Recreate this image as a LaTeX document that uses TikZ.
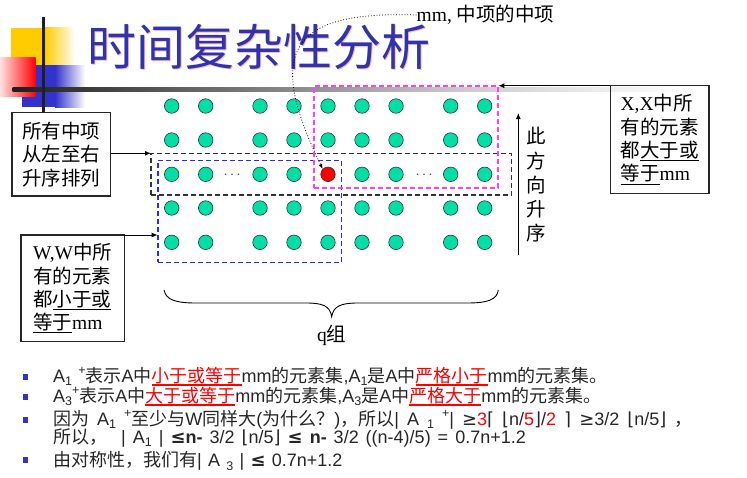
\documentclass[tikz,border=0pt]{standalone}
\usepackage{fontspec}
\setmainfont{Liberation Serif}
\newfontfamily\cjk{Noto Sans CJK SC}
\newfontfamily\ssf[WordSpace=1.25]{Liberation Sans}
\newfontfamily\sym{DejaVu Sans}
\usetikzlibrary{arrows.meta}
\definecolor{dotgreen}{RGB}{0,224,164}
\definecolor{titleblue}{RGB}{50,50,170}
\definecolor{titleshadow}{RGB}{240,190,210}
\definecolor{decoyellow}{RGB}{255,204,0}
\definecolor{decoblue}{RGB}{51,51,204}
\definecolor{bulletblue}{RGB}{51,51,204}
\definecolor{boxblue}{RGB}{40,40,255}
\definecolor{boxmagenta}{RGB}{255,60,255}
\newcommand\zh[1]{{\cjk #1}}
\newcommand\sy[1]{{\sym #1}}
\newcommand\sbt[1]{\raisebox{-0.22em}{\fontsize{12.5}{12.5}\selectfont #1}}
\newcommand\spt[1]{\raisebox{0.4em}{\fontsize{12.5}{12.5}\selectfont #1}}
\newcommand\rul[1]{{\color{red}\setbox0\hbox{\cjk #1}\rlap{\rule[-4pt]{\wd0}{1.8pt}}\box0}}
\begin{document}
\begin{tikzpicture}[x=1pt,y=-1pt,
  dot/.style={circle, draw=black!80, line width=0.6pt, fill=dotgreen, minimum size=14.5pt, inner sep=0},
  reddot/.style={dot, fill=red},
  dbox/.style={draw, dash pattern=on 5pt off 3pt, line width=1.4pt, inner sep=0, outer sep=0},
  tbox/.style={draw=black!85, line width=1.1pt, align=left, font=\cjk\fontsize{19.5}{23.3}\selectfont, inner sep=0, outer sep=0},
  arr/.style={-{Latex[length=6pt,width=5pt]}, line width=1pt},
  bline/.style={anchor=base west, inner sep=0, font=\ssf\fontsize{18}{20}\selectfont, text=black!85},
  bullet/.style={rectangle, fill=bulletblue, minimum size=5.7pt, inner sep=0}]
\useasboundingbox (0,0) rectangle (747,477);
% title decorations
\fill[decoyellow] (11,27.7) rectangle (45,65);
\shade[left color=decoyellow, right color=white] (45,27.7) rectangle (75,65);
\fill[decoblue] (22,65) rectangle (55,107);
\shade[left color=decoblue, right color=white] (55,65) rectangle (85,107);
\shade[left color=red!12, right color=red] (0,57.7) rectangle (35.7,96);
\shade[left color=black!88, right color=black!22] (12.7,87.3) rectangle (450,91.3);
\shade[left color=black!22, right color=white] (450,87.3) rectangle (680,91.3);
\fill[black!88] (41.8,16.7) rectangle (44.8,111.7);
% title
\node[font=\cjk\fontsize{49}{50}\selectfont, text=titleshadow, inner sep=0] (titleshadow) at (260,48) {时间复杂性分析};
\node[font=\cjk\fontsize{49}{50}\selectfont, text=titleblue, inner sep=0] (title) at (259,47) {时间复杂性分析};
% dashed groups
\node[dbox, draw=black!80, minimum width=360.7pt, minimum height=41.7pt] (rowbox) at (331.35,174.15) {};
\node[dbox, draw=boxblue, line width=1.6pt, minimum width=183.6pt, minimum height=102pt] (wbox) at (249.5,211.3) {};
\node[dbox, draw=boxmagenta, line width=1.7pt, minimum width=184pt, minimum height=102pt] (xbox) at (406.3,136.7) {};
% dots
\foreach \x [count=\i] in {171.7,205.7,260,294,328,362,396,450.7,484.7} {
  \foreach \y [count=\j] in {106,140,174.3,208,242.3} {
    \ifnum\i\j=53
      \node[reddot] (red) at (\x,\y) {};
    \else
      \node[dot] (c\i\j) at (\x,\y) {};
    \fi
  }
}
\foreach \cx in {232,424} {
  \foreach \dx in {-6.5,0,6.5} {
    \fill[black!70] (\cx+\dx,174.3) circle (0.9pt);
  }
}
% text boxes
\node[tbox, minimum width=98.7pt, minimum height=83.3pt] (box1) at (61.35,154.35) {所有中项\\从左至右\\升序排列};
\node[tbox, minimum width=103.3pt, minimum height=106.7pt] (box2) at (72.65,288.35) {{\rmfamily W,W}中所\\有的元素\\都\underline{小于或}\\\underline{等于}{\rmfamily mm}};
\node[tbox, minimum width=98.7pt, minimum height=107.6pt] (box3) at (659.65,139.5) {{\rmfamily X,X}中所\\有的元素\\都\underline{大于或}\\\underline{等于}{\rmfamily mm}};
\draw[arr] (box1.east |- rowbox.north west) -- (rowbox.north west);
\draw[arr] (box2.north east) -- (wbox.west |- box2.north east);
\draw[arr] (box3.north west) -- (xbox.north east |- box3.north west);
% median label
\node[anchor=west, font=\fontsize{19.5}{20}\selectfont, inner sep=0] (mmlbl) at (416.5,15) {mm, {\cjk 中项的中项}};
\draw[dotted, line width=0.8pt, -{Latex[length=5pt,width=4pt]}] (mmlbl.west) .. controls (280,10) and (270,60) .. (red.north west);
% vertical arrow
\coordinate (upbot) at (518.3,255);
\coordinate (uptop) at (518.3,113);
\draw[arr] (upbot) -- (uptop);
\node[font=\cjk\fontsize{19.5}{24.2}\selectfont, align=center, inner sep=0] (updir) at (536,185) {此\\方\\向\\升\\序};
% brace
\draw[line width=0.9pt] (164,290) .. controls (166,300) and (176,303) .. (196,303) -- (306,303)
  .. controls (323,303) and (330,306) .. (331.7,316.7)
  .. controls (333.4,306) and (341,303) .. (358,303) -- (467,303)
  .. controls (487,303) and (497,300) .. (498.3,290);
\node[font=\fontsize{19.5}{20}\selectfont, inner sep=0] (qlbl) at (331.7,335) {q{\cjk 组}};
% bottom text
\node[bullet] (b1) at (25.5,377) {};
\node[bullet] (b2) at (25.5,397) {};
\node[bullet] (b3) at (25.5,420) {};
\node[bullet] (b4) at (25.5,460) {};
\node[bline] (l1) at (53,382) {A\sbt{1} \spt{+}\zh{表示}A\zh{中}\rul{小于或等于}mm\zh{的元素集},A\sbt{1}\zh{是}A\zh{中}\rul{严格小于}mm\zh{的元素集。}};
\node[bline] (l2) at (53,402) {A\sbt{3}\spt{+}\zh{表示}A\zh{中}\rul{大于或等于}mm\zh{的元素集},A\sbt{3}\zh{是}A\zh{中}\rul{严格大于}mm\zh{的元素集。}};
\node[bline] (l3) at (53,425) {\spaceskip=8pt\zh{因为} A\sbt{1} \spt{+}\zh{至少与}W\zh{同样大}(\zh{为什么？})\zh{，所以}| A \sbt{1} \spt{+}| \sy{≥}{\color{red}3}\sy{⌈} \sy{⌊}n/{\color{red}5}\sy{⌋}/{\color{red}2} \sy{⌉} \sy{≥}3/2 \sy{⌊}n/5\sy{⌋} \zh{，}};
\node[bline] (l3b) at (53,443) {\spaceskip=7pt\zh{所以，}\ \ | A\sbt{1} | {\bfseries\sy{≤}n-} 3/2 \sy{⌊}n/5\sy{⌋} {\bfseries\sy{≤} n-} 3/2 ((n-4)/5) = 0.7n+1.2};
\node[bline] (l4) at (53,466.5) {\zh{由对称性，我们有}| A \sbt{3} | {\bfseries\sy{≤}} 0.7n+1.2};
\end{tikzpicture}
\end{document}
